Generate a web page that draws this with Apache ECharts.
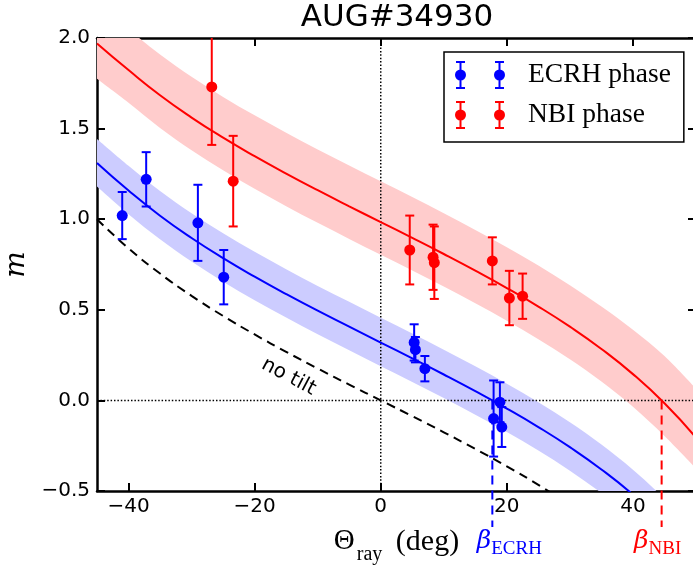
<!DOCTYPE html>
<html><head><meta charset="utf-8">
<script src="https://cdn.jsdelivr.net/npm/echarts@6/dist/echarts.min.js"></script>
<style>html,body{margin:0;padding:0;overflow:hidden;background:#fff}#c{width:696px;height:565px}</style>
</head><body><div id="c"></div>
<script>
// ---- data ----
const titleText = 'AUG#34930';
const xTicks = [-40, -20, 0, 20, 40];
const xRange = [-45, 50];
const yRange = [-0.5, 2.0];

const thetaGrid = [-45,-40,-35,-30,-25,-20,-15,-10,-5,0,5,10,15,20,25,30,35,40,45,50];
const ecrhFit   = [1.31,1.158,1.019,0.896,0.785,0.683,0.587,0.495,0.407,0.319,0.232,0.143,0.051,-0.045,-0.147,-0.258,-0.381,-0.520,-0.681,-0.873];
const ecrhUpper = [1.443,1.295,1.156,1.033,0.922,0.820,0.724,0.632,0.544,0.456,0.369,0.280,0.188,0.092,-0.010,-0.121,-0.244,-0.383,-0.544,-0.736];
const ecrhLower = [1.18,1.028,0.889,0.766,0.655,0.553,0.457,0.365,0.277,0.189,0.102,0.013,-0.079,-0.175,-0.277,-0.388,-0.511,-0.650,-0.811,-1.003];
const nbiFit    = [1.97,1.823,1.684,1.561,1.450,1.348,1.252,1.160,1.071,0.984,0.897,0.808,0.716,0.620,0.518,0.407,0.284,0.145,-0.016,-0.205];
const nbiUpper  = [2.195,2.048,1.909,1.786,1.675,1.573,1.477,1.385,1.296,1.209,1.122,1.033,0.941,0.845,0.745,0.636,0.518,0.390,0.245,0.065];
const nbiLower  = [1.775,1.643,1.504,1.381,1.270,1.168,1.072,0.980,0.891,0.804,0.717,0.628,0.536,0.440,0.338,0.227,0.104,-0.035,-0.196,-0.375];

const noTiltTheta = [-45,-40,-35,-30,-25,-20,-15,-10,-5,0,5,10,15,20,25,30];
const noTiltM     = [1.0,0.839,0.700,0.577,0.466,0.364,0.268,0.176,0.087,0,-0.087,-0.176,-0.268,-0.364,-0.466,-0.577];
const noTiltLabelPos = [-14.6, 0.13];

const ecrhTheta = [-41.0,-37.2,-29.0,-24.9,5.3,5.5,7.0,17.9,18.9,19.2];
const ecrhM     = [1.02,1.22,0.98,0.68,0.32,0.28,0.175,-0.10,-0.01,-0.147];
const ecrhErr   = [0.13,0.15,0.21,0.15,0.10,0.07,0.07,0.21,0.11,0.11];

const nbiTheta = [-26.8,-23.4,4.6,8.3,8.5,17.7,20.4,22.5];
const nbiM     = [1.73,1.21,0.83,0.79,0.76,0.77,0.565,0.575];
const nbiErr   = [0.32,0.25,0.19,0.18,0.20,0.13,0.15,0.125];

const betaValues = [17.7, 44.55];
const betaNames  = ['ECRH', 'NBI'];
const seriesNames = ['ECRH phase', 'NBI phase'];

// ---- styles ----
const BLUE = '#0000ff', RED = '#ff0000';
const BLUE_BAND = '#ccccff', RED_BAND = '#ffcccc';
const betaColors = [BLUE, RED];
const betaLabelDx = [17, -4];

function pairs(xs, ys) { return xs.map((x, i) => [x, ys[i]]); }
function triples(xs, ys, es) { return xs.map((x, i) => [x, ys[i], es[i]]); }

// smooth (Catmull-Rom style) bezier segments through pixel points, continuing a path
function smoothSegs(p) {
  let d = '';
  for (let i = 0; i < p.length - 1; i++) {
    const a = p[Math.max(i - 1, 0)], b = p[i], c = p[i + 1], e = p[Math.min(i + 2, p.length - 1)];
    const c1 = [b[0] + (c[0] - a[0]) / 6, b[1] + (c[1] - a[1]) / 6];
    const c2 = [c[0] - (e[0] - b[0]) / 6, c[1] - (e[1] - b[1]) / 6];
    d += `C${c1[0]} ${c1[1]} ${c2[0]} ${c2[1]} ${c[0]} ${c[1]}`;
  }
  return d;
}

function bandSeries(upper, lower, fill) {
  return {
    type: 'custom', clip: true, silent: true, z: 1,
    data: pairs(thetaGrid, upper),
    renderItem(params, api) {
      if (params.dataIndex !== 0) return null;
      const up = thetaGrid.map((t, i) => api.coord([t, upper[i]]));
      const lo = thetaGrid.map((t, i) => api.coord([t, lower[i]])).reverse();
      const d = `M${up[0][0]} ${up[0][1]}` + smoothSegs(up) +
                `L${lo[0][0]} ${lo[0][1]}` + smoothSegs(lo) + 'Z';
      return { type: 'path', shape: { pathData: d }, style: { fill: fill } };
    }
  };
}

function errSeries(xs, ys, es, color) {
  return {
    type: 'custom', clip: true, silent: true, z: 5,
    data: triples(xs, ys, es),
    encode: { x: 0, y: 1 },
    renderItem(params, api) {
      const x = api.value(0), y = api.value(1), e = api.value(2);
      const t = api.coord([x, y + e]), b = api.coord([x, y - e]);
      const st = { stroke: color, lineWidth: 2 };
      const cw = 4.5;
      return { type: 'group', children: [
        { type: 'line', shape: { x1: t[0], y1: t[1], x2: b[0], y2: b[1] }, style: st },
        { type: 'line', shape: { x1: t[0] - cw, y1: t[1], x2: t[0] + cw, y2: t[1] }, style: st },
        { type: 'line', shape: { x1: b[0] - cw, y1: b[1], x2: b[0] + cw, y2: b[1] }, style: st }
      ]};
    }
  };
}

// legend icon: two error-bar glyphs (50 x 28)
function rect(x0, y0, x1, y1) { return `M${x0} ${y0}H${x1}V${y1}H${x0}Z`; }
function circ(cx, cy, r) { return `M${cx - r} ${cy}A${r} ${r} 0 1 1 ${cx + r} ${cy}A${r} ${r} 0 1 1 ${cx - r} ${cy}Z`; }
function glyph(cx) {
  return rect(cx - 4.5, 0, cx + 4.5, 2) + rect(cx - 1, 0, cx + 1, 28) + rect(cx - 4.5, 26, cx + 4.5, 28) + circ(cx, 14, 5.5);
}
const legendIcon = 'path://' + glyph(5.5) + glyph(44.5);

const axisLineStyle = { color: '#000', width: 2.5 };
const tickStyle = { color: '#000', width: 2 };
const tickFont = { fontFamily: 'DejaVu Sans', fontSize: 20, color: '#000' };

const option = {
  animation: false,
  backgroundColor: '#fff',
  title: {
    text: titleText, left: 397, top: 2, padding: 0, textAlign: 'center',
    textStyle: { fontFamily: 'DejaVu Sans', fontSize: 31, fontWeight: 'normal', color: '#000' }
  },
  grid: { left: 97, top: 38, right: 0, bottom: 74, containLabel: false, outerBoundsMode: 'none' },
  legend: {
    orient: 'vertical', left: 444, top: 52,
    padding: [9, 13, 13, 11], itemGap: 12, itemWidth: 50, itemHeight: 28,
    borderColor: '#000', borderWidth: 1.5, backgroundColor: '#fff', borderRadius: 0,
    itemStyle: { borderWidth: 0 },
    textStyle: { fontFamily: 'Liberation Serif', fontSize: 27.5, color: '#000', padding: [0, 0, 0, 18] },
    data: seriesNames.map(n => ({ name: n, icon: legendIcon }))
  },
  xAxis: [
    {
      type: 'value', min: xRange[0], max: xRange[1], position: 'bottom',
      axisLine: { onZero: false, lineStyle: axisLineStyle },
      axisTick: { inside: true, length: 8, lineStyle: tickStyle, customValues: xTicks },
      axisLabel: Object.assign({ margin: 6, customValues: xTicks, formatter: v => (v < 0 ? '−' : '') + Math.abs(v) }, tickFont),
      splitLine: { show: false },
      name: '{t|Θ}{s|ray}{d| (deg)}', nameLocation: 'middle', nameGap: 36,
      nameTextStyle: {
        color: '#000',
        rich: {
          t: { fontFamily: 'Liberation Serif', fontSize: 29, lineHeight: 30, verticalAlign: 'top' },
          s: { fontFamily: 'Liberation Serif', fontSize: 20, lineHeight: 18, verticalAlign: 'top', padding: [18, 6, 0, 2] },
          d: { fontFamily: 'Liberation Serif', fontSize: 30, lineHeight: 30, verticalAlign: 'top' }
        }
      }
    },
    {
      type: 'value', min: xRange[0], max: xRange[1], position: 'top',
      axisLine: { onZero: false, lineStyle: axisLineStyle },
      axisTick: { inside: true, length: 8, lineStyle: tickStyle, customValues: xTicks },
      axisLabel: { show: false }, splitLine: { show: false }
    }
  ],
  yAxis: [
    {
      type: 'value', min: yRange[0], max: yRange[1], interval: 0.5, position: 'left',
      axisLine: { onZero: false, lineStyle: axisLineStyle },
      axisTick: { inside: true, length: 8, lineStyle: tickStyle },
      axisLabel: Object.assign({ margin: 7, formatter: v => (v < 0 ? '−' : '') + Math.abs(v).toFixed(1) }, tickFont),
      splitLine: { show: false },
      name: 'm', nameLocation: 'middle', nameRotate: 90, nameGap: 66,
      nameTextStyle: { fontFamily: 'DejaVu Serif', fontStyle: 'italic', fontSize: 28, color: '#000' }
    },
    {
      type: 'value', min: yRange[0], max: yRange[1], interval: 0.5, position: 'right',
      axisLine: { onZero: false, lineStyle: axisLineStyle },
      axisTick: { inside: true, length: 8, lineStyle: tickStyle },
      axisLabel: { show: false }, splitLine: { show: false }
    }
  ],
  series: [
    bandSeries(nbiUpper, nbiLower, RED_BAND),
    bandSeries(ecrhUpper, ecrhLower, BLUE_BAND),
    {
      type: 'line', silent: true, z: 2, symbol: 'none',
      data: [[xRange[0], 0], [xRange[1], 0]],
      lineStyle: { color: '#000', width: 1.5, type: [1.5, 1.9] }
    },
    {
      type: 'line', silent: true, z: 2, symbol: 'none',
      data: [[0, yRange[0]], [0, yRange[1]]],
      lineStyle: { color: '#000', width: 1.5, type: [1.5, 1.9] }
    },
    {
      type: 'line', silent: true, z: 3, symbol: 'none', smooth: true,
      data: pairs(noTiltTheta, noTiltM),
      lineStyle: { color: '#000', width: 2, type: [9, 6] }
    },
    {
      type: 'scatter', silent: true, z: 3, symbolSize: 1, itemStyle: { color: 'rgba(0,0,0,0)', opacity: 1 },
      data: [noTiltLabelPos],
      label: { show: true, position: 'inside', formatter: 'no tilt', rotate: -28,
        fontFamily: 'DejaVu Sans', fontSize: 20, color: '#000' }
    },
    {
      type: 'line', silent: true, z: 4, symbol: 'none', smooth: true,
      data: pairs(thetaGrid, ecrhFit), lineStyle: { color: BLUE, width: 2 }
    },
    {
      type: 'line', silent: true, z: 4, symbol: 'none', smooth: true,
      data: pairs(thetaGrid, nbiFit), lineStyle: { color: RED, width: 2 }
    },
    {
      type: 'custom', clip: false, silent: true, z: 4,
      data: betaValues.map(b => [b, 0]),
      renderItem(params, api) {
        const i = params.dataIndex;
        const p0 = api.coord([api.value(0), 0]);
        const p1 = api.coord([api.value(0), yRange[0]]);
        const c = betaColors[i];
        return { type: 'group', children: [
          { type: 'line', shape: { x1: p0[0], y1: p0[1], x2: p1[0], y2: p1[1] + 36 },
            style: { stroke: c, lineWidth: 2, lineDash: [9, 6] } },
          { type: 'text', x: p1[0] + betaLabelDx[i], y: p1[1] + 38,
            style: { text: '{b|β}{s|' + betaNames[i] + '}', fill: c, align: 'center', verticalAlign: 'top',
              rich: {
                b: { fontFamily: 'DejaVu Serif', fontStyle: 'italic', fontSize: 25, lineHeight: 28, verticalAlign: 'top', fill: c },
                s: { fontFamily: 'Liberation Serif', fontSize: 19, lineHeight: 18, verticalAlign: 'top', padding: [11, 0, 0, 0], fill: c }
              } } }
        ]};
      }
    },
    errSeries(ecrhTheta, ecrhM, ecrhErr, BLUE),
    errSeries(nbiTheta, nbiM, nbiErr, RED),
    {
      name: seriesNames[0], type: 'scatter', z: 6, symbol: 'circle', symbolSize: 11,
      itemStyle: { color: BLUE, opacity: 1 }, data: pairs(ecrhTheta, ecrhM)
    },
    {
      name: seriesNames[1], type: 'scatter', z: 6, symbol: 'circle', symbolSize: 11,
      itemStyle: { color: RED, opacity: 1 }, data: pairs(nbiTheta, nbiM)
    }
  ]
};

const chart = echarts.init(document.getElementById('c'), null, { renderer: 'canvas' });
chart.setOption(option);
</script>
</body></html>
